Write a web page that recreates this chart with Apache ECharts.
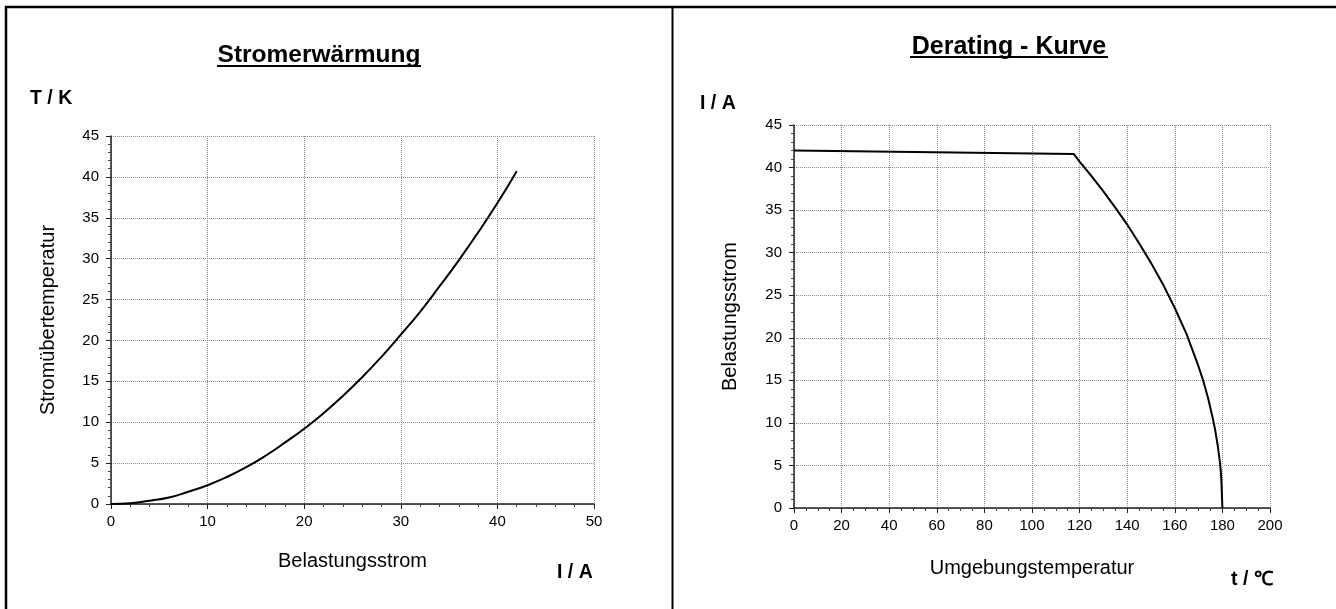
<!DOCTYPE html>
<html>
<head>
<meta charset="utf-8">
<script src="https://cdn.jsdelivr.net/npm/echarts@6/dist/echarts.min.js"></script>
<style>
html,body{margin:0;padding:0;background:#fff;}
#main{width:1336px;height:609px;}
</style>
</head>
<body>
<div id="main"></div>
<script>
// Left chart: Stromerwärmung (current vs. temperature rise)
const heatCurrent = [0, 2, 4, 6, 8, 10, 12, 14, 16, 18, 20, 22, 24, 26, 28, 30, 32, 34, 36, 38, 40, 42];
const heatTemp = [0, 0.1, 0.4, 0.8, 1.5, 2.3, 3.3, 4.5, 5.9, 7.5, 9.2, 11.1, 13.2, 15.5, 18.0, 20.7, 23.5, 26.6, 29.8, 33.2, 36.8, 40.7];

// Right chart: Derating - Kurve (ambient temperature vs. load current)
const deratingTemp = [0, 117.5, 120, 125, 130, 135, 140, 145, 150, 155, 160, 165, 170, 172, 174, 176, 177, 178, 179, 179.5, 180];
const deratingCurrent = [42.0, 41.6, 40.7, 39.0, 37.2, 35.3, 33.3, 31.1, 28.8, 26.3, 23.5, 20.4, 16.6, 14.9, 12.9, 10.5, 9.1, 7.4, 5.3, 3.7, 0];

const titles = ['Stromerwärmung', 'Derating - Kurve'];
const leftYName = 'Stromübertemperatur';
const leftXName = 'Belastungsstrom';
const rightYName = 'Belastungsstrom';
const rightXName = 'Umgebungstemperatur';
const units = { leftY: 'T / K', leftX: 'I / A', rightY: 'I / A', rightX: 't / ℃' };

const FONT = '"Liberation Sans", Arial, sans-serif';

const chart = echarts.init(document.getElementById('main'), null, { renderer: 'canvas' });

function valueAxis(gridIndex, min, max, interval, minorSplit, name, nameGap, isY) {
  return {
    type: 'value',
    gridIndex: gridIndex,
    min: min, max: max, interval: interval,
    name: name,
    nameLocation: 'middle',
    nameGap: nameGap,
    nameRotate: isY ? 90 : 0,
    nameTextStyle: { fontFamily: FONT, fontSize: 20, color: '#000' },
    axisLine: { show: true, onZero: false, lineStyle: { color: '#222', width: 1.5 } },
    axisTick: { show: true, inside: false, length: 5, lineStyle: { color: '#222', width: 1 } },
    minorTick: { show: true, splitNumber: minorSplit, length: 3, lineStyle: { color: '#444', width: 1 } },
    axisLabel: { fontFamily: FONT, fontSize: 15, color: '#000', margin: isY ? 12 : 10 },
    splitLine: { show: true, lineStyle: { color: '#8a8a8a', width: 1, type: [1, 1] } },
    minorSplitLine: { show: false }
  };
}

const unitStyle = { fontFamily: FONT, fontSize: 19.5, fontWeight: 'bold', color: '#000' };

const option = {
  backgroundColor: '#fff',
  animation: false,
  title: [
    { text: titles[0], left: 319, top: 43, padding: 0, textAlign: 'center', textStyle: { fontFamily: FONT, fontSize: 24.5, fontWeight: 'bold', color: '#000' } },
    { text: titles[1], left: 1009, top: 35, padding: 0, textAlign: 'center', textStyle: { fontFamily: FONT, fontSize: 25, fontWeight: 'bold', color: '#000' } },
    { text: units.leftY, left: 30, top: 89, padding: 0, textStyle: unitStyle },
    { text: units.leftX, left: 557, top: 563, padding: 0, textStyle: unitStyle },
    { text: units.rightY, left: 700, top: 94, padding: 0, textStyle: unitStyle },
    { text: units.rightX, left: 1231, top: 570, padding: 0, textStyle: unitStyle }
  ],
  grid: [
    { left: 111, top: 136, width: 483, height: 368, show: false },
    { left: 794, top: 125, width: 476, height: 383, show: false }
  ],
  xAxis: [
    valueAxis(0, 0, 50, 10, 5, leftXName, 47, false),
    valueAxis(1, 0, 200, 20, 4, rightXName, 50, false)
  ],
  yAxis: [
    valueAxis(0, 0, 45, 5, 5, leftYName, 53, true),
    valueAxis(1, 0, 45, 5, 5, rightYName, 54, true)
  ],
  series: [
    {
      type: 'line', xAxisIndex: 0, yAxisIndex: 0,
      data: heatCurrent.map((v, i) => [v, heatTemp[i]]),
      smooth: 0.5, showSymbol: false,
      lineStyle: { color: '#000', width: 2 }
    },
    {
      type: 'line', xAxisIndex: 1, yAxisIndex: 1,
      data: deratingTemp.map((v, i) => [v, deratingCurrent[i]]),
      smooth: false, showSymbol: false,
      lineStyle: { color: '#000', width: 2 }
    }
  ],
  graphic: [
    // panel frame
    { type: 'line', shape: { x1: 5, y1: 7, x2: 1336, y2: 7 }, style: { stroke: '#000', lineWidth: 2.5 }, silent: true },
    { type: 'line', shape: { x1: 6, y1: 6, x2: 6, y2: 609 }, style: { stroke: '#000', lineWidth: 2.5 }, silent: true },
    { type: 'line', shape: { x1: 672.5, y1: 6, x2: 672.5, y2: 609 }, style: { stroke: '#000', lineWidth: 2 }, silent: true },
    // title underlines
    { type: 'line', shape: { x1: 217, y1: 66, x2: 421, y2: 66 }, style: { stroke: '#000', lineWidth: 2 }, silent: true },
    { type: 'line', shape: { x1: 910, y1: 57, x2: 1108, y2: 57 }, style: { stroke: '#000', lineWidth: 2 }, silent: true }
  ]
};

chart.setOption(option);
</script>
</body>
</html>
